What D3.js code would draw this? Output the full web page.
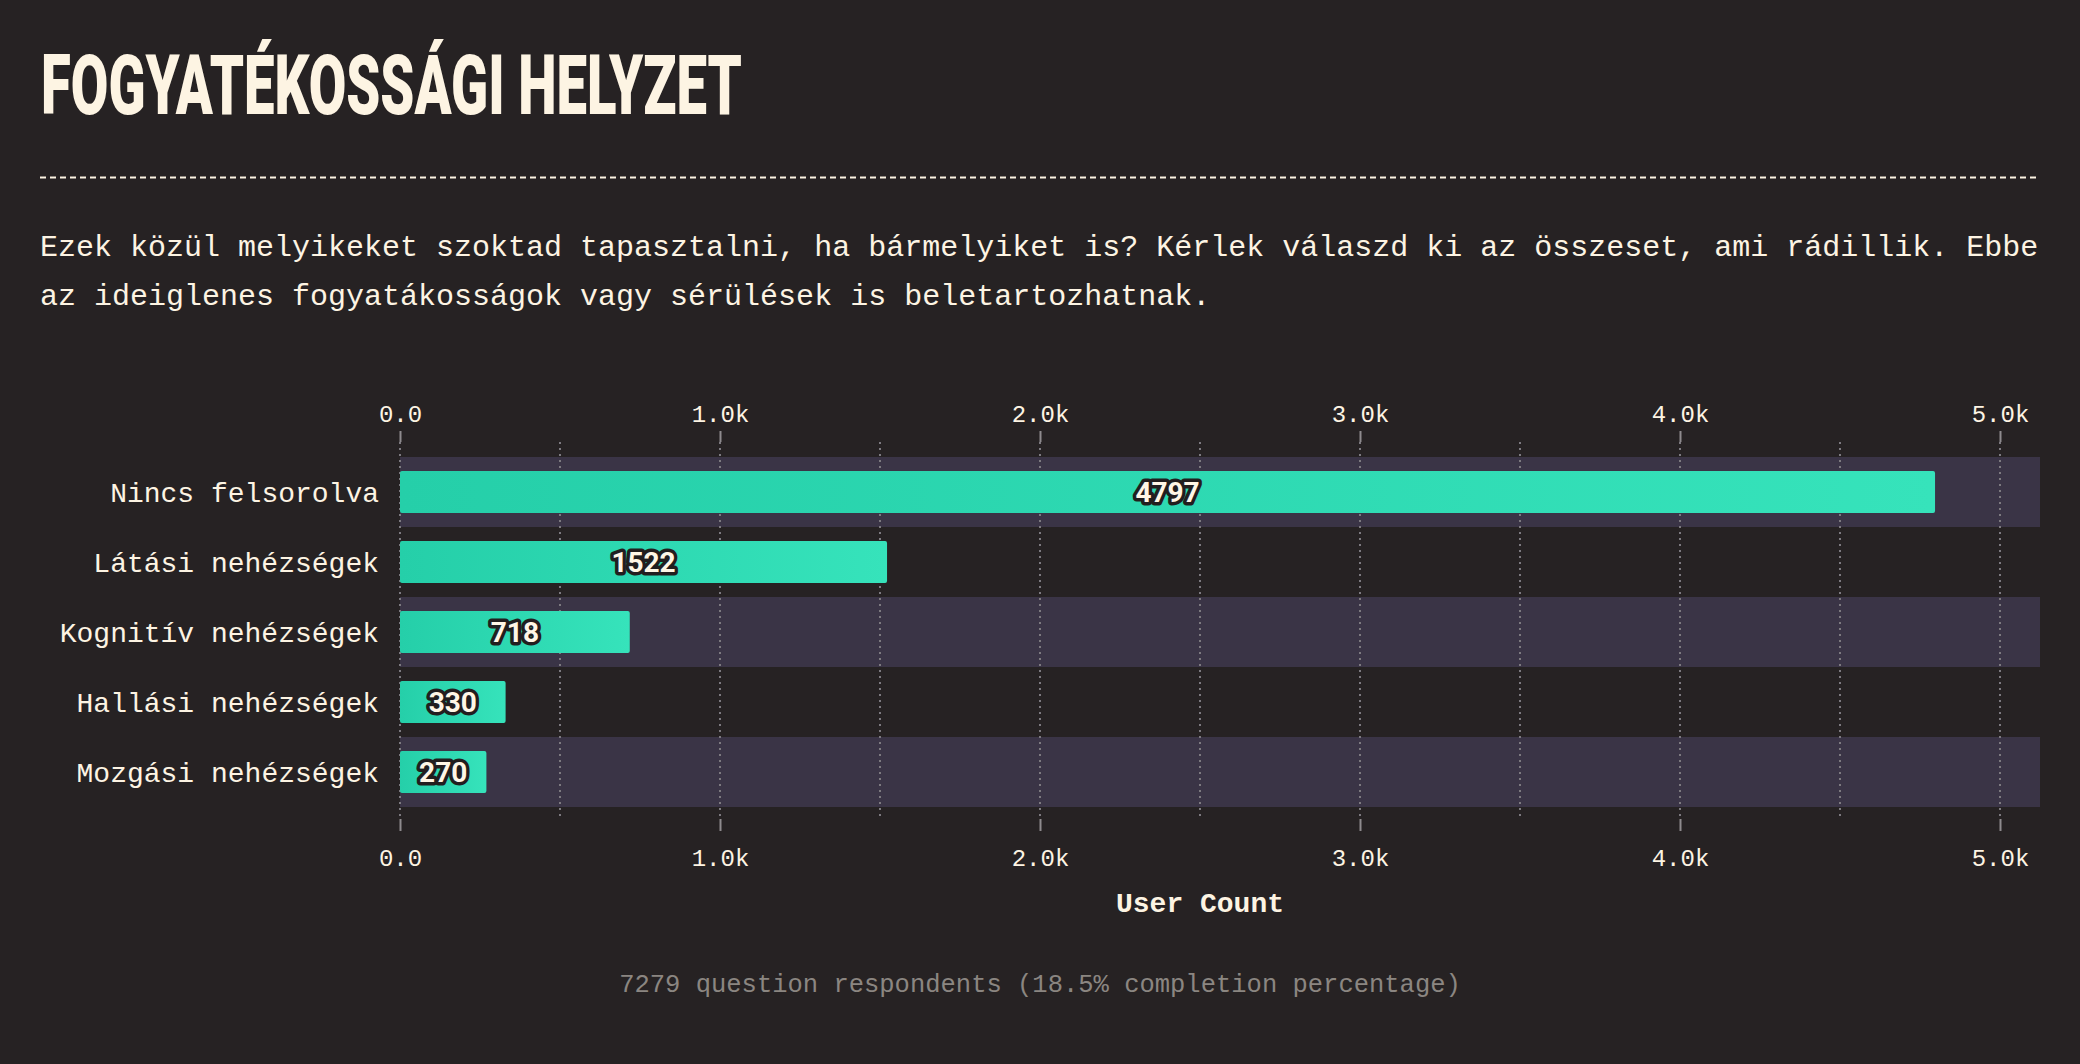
<!DOCTYPE html>
<html>
<head>
<meta charset="utf-8">
<script src="https://cdn.jsdelivr.net/npm/d3@7/dist/d3.min.js"></script>
<style>
  html, body { margin: 0; padding: 0; background: #262223; }
  #viz { width: 2080px; height: 1064px; }
</style>
</head>
<body>
<div id="viz"></div>
<script>
// Horizontal bar chart of survey answers, dark theme.
// Layout numbers are in page pixels (2080 x 1064).

var title = "FOGYATÉKOSSÁGI HELYZET";
var subtitleLines = [
    "Ezek közül melyikeket szoktad tapasztalni, ha bármelyiket is? Kérlek válaszd ki az összeset, ami rádillik. Ebbe",
    "az ideiglenes fogyatákosságok vagy sérülések is beletartozhatnak."
];
var categories = ["Nincs felsorolva", "Látási nehézségek", "Kognitív nehézségek", "Hallási nehézségek", "Mozgási nehézségek"];
var counts = [4797, 1522, 718, 330, 270];
var tickValues = [0, 1000, 2000, 3000, 4000, 5000];
var tickLabels = ["0.0", "1.0k", "2.0k", "3.0k", "4.0k", "5.0k"];
var gridValues = [0, 500, 1000, 1500, 2000, 2500, 3000, 3500, 4000, 4500, 5000];
var axisTitle = "User Count";
var footer = "7279 question respondents (18.5% completion percentage)";

var W = 2080, H = 1064;
var Left = 400, Right = 2040;
var PlotTop = 457, PlotBottom = 807;
var GridTop = 442, GridBottom = 820;

var Cream = "#fdf4e3";
var Mono = "'Liberation Mono', 'DejaVu Sans Mono', monospace";

function main() {
    var svg = d3.select("#viz")
        .append("svg")
        .attr("width", W)
        .attr("height", H);

    svg.append("rect").attr("width", W).attr("height", H).attr("fill", "#262223");

    // bar gradient, per bar (objectBoundingBox)
    var grad = svg.append("defs").append("linearGradient")
        .attr("id", "barfill")
        .attr("x1", "0").attr("x2", "1").attr("y1", "0").attr("y2", "0");
    grad.append("stop").attr("offset", "0%").attr("stop-color", "#25cfa9");
    grad.append("stop").attr("offset", "100%").attr("stop-color", "#36e3bb");

    // title + separator + question text
    svg.append("text")
        .attr("x", 41).attr("y", 114)
        .attr("textLength", 701).attr("lengthAdjust", "spacingAndGlyphs")
        .style("font-family", "Roboto, 'Noto Sans', sans-serif")
        .style("font-weight", 900)
        .style("font-size", "83px")
        .attr("fill", Cream)
        .text(title);

    svg.append("line")
        .attr("x1", 40).attr("x2", 2040)
        .attr("y1", 177.5).attr("y2", 177.5)
        .attr("stroke", Cream).attr("stroke-width", 2)
        .attr("stroke-dasharray", "6,4");

    svg.selectAll("text.sub")
        .data(subtitleLines)
        .enter().append("text")
        .attr("class", "sub")
        .attr("x", 40)
        .attr("y", function(d, i) { return 256 + i * 49; })
        .style("font-family", Mono)
        .style("font-size", "30px")
        .attr("fill", Cream)
        .text(function(d) { return d; });

    var x = d3.scaleLinear().domain([0, 5125]).range([Left, Right]);
    var y = d3.scaleBand().domain(categories).range([PlotTop, PlotBottom]).padding(0);
    var bw = y.bandwidth();

    // alternating row bands
    svg.append("g").selectAll("rect")
        .data(categories.filter(function(d, i) { return i % 2 == 0; }))
        .enter().append("rect")
        .attr("x", x(0))
        .attr("y", function(d) { return y(d); })
        .attr("width", Right - x(0))
        .attr("height", bw)
        .attr("fill", "#3a3446");

    // dotted grid
    svg.append("g").selectAll("line")
        .data(gridValues)
        .enter().append("line")
        .attr("x1", function(d) { return x(d); })
        .attr("x2", function(d) { return x(d); })
        .attr("y1", GridTop).attr("y2", GridBottom)
        .attr("stroke", "#7d7a80")
        .attr("stroke-width", 2)
        .attr("stroke-dasharray", "2,4");

    // axes, top and bottom
    var fmt = function(d) { return tickLabels[tickValues.indexOf(d)]; };
    var top = svg.append("g")
        .attr("transform", "translate(0," + GridTop + ")")
        .call(d3.axisTop(x).tickValues(tickValues).tickFormat(fmt).tickSize(11).tickPadding(9));
    var bottom = svg.append("g")
        .attr("transform", "translate(0," + (GridBottom - 1) + ")")
        .call(d3.axisBottom(x).tickValues(tickValues).tickFormat(fmt).tickSize(12).tickPadding(18));
    [top, bottom].forEach(function(ax) {
        ax.select(".domain").remove();
        ax.selectAll(".tick line").attr("stroke", "#8e8b8e").attr("stroke-width", 2);
        ax.selectAll(".tick text")
            .attr("fill", Cream)
            .style("font-family", Mono)
            .style("font-size", "24px");
    });

    // bars
    var rows = categories.map(function(c, i) { return { name: c, value: counts[i] }; });

    svg.append("g").selectAll("rect")
        .data(rows)
        .enter().append("rect")
        .attr("x", x(0))
        .attr("y", function(d) { return y(d.name) + bw * 0.2; })
        .attr("width", function(d) { return x(d.value) - x(0); })
        .attr("height", bw * 0.6)
        .attr("rx", 2)
        .attr("fill", "url(#barfill)");

    // category labels
    svg.append("g").selectAll("text")
        .data(rows)
        .enter().append("text")
        .attr("x", x(0) - 21)
        .attr("y", function(d) { return y(d.name) + bw / 2; })
        .attr("dy", "0.36em")
        .attr("text-anchor", "end")
        .style("font-family", Mono)
        .style("font-size", "28px")
        .attr("fill", Cream)
        .text(function(d) { return d.name; });

    // value labels in the middle of each bar, outlined
    svg.append("g").selectAll("text")
        .data(rows)
        .enter().append("text")
        .attr("x", function(d) { return (x(0) + x(d.value)) / 2; })
        .attr("y", function(d) { return y(d.name) + bw / 2; })
        .attr("dy", "0.36em")
        .attr("text-anchor", "middle")
        .style("font-family", "Roboto, 'Noto Sans', sans-serif")
        .style("font-weight", 700)
        .style("font-size", "28px")
        .style("paint-order", "stroke")
        .attr("stroke", "#221e1f")
        .attr("stroke-width", 7)
        .attr("stroke-linejoin", "round")
        .attr("fill", "#fff6e6")
        .text(function(d) { return d.value; });

    svg.append("text")
        .attr("x", (x(0) + x(5000)) / 2)
        .attr("y", 912)
        .attr("text-anchor", "middle")
        .style("font-family", Mono)
        .style("font-weight", 700)
        .style("font-size", "28px")
        .attr("fill", Cream)
        .text(axisTitle);

    svg.append("text")
        .attr("x", W / 2)
        .attr("y", 992)
        .attr("text-anchor", "middle")
        .style("font-family", Mono)
        .style("font-size", "25.5px")
        .attr("fill", "#8b8681")
        .text(footer);
}

main();
</script>
</body>
</html>
